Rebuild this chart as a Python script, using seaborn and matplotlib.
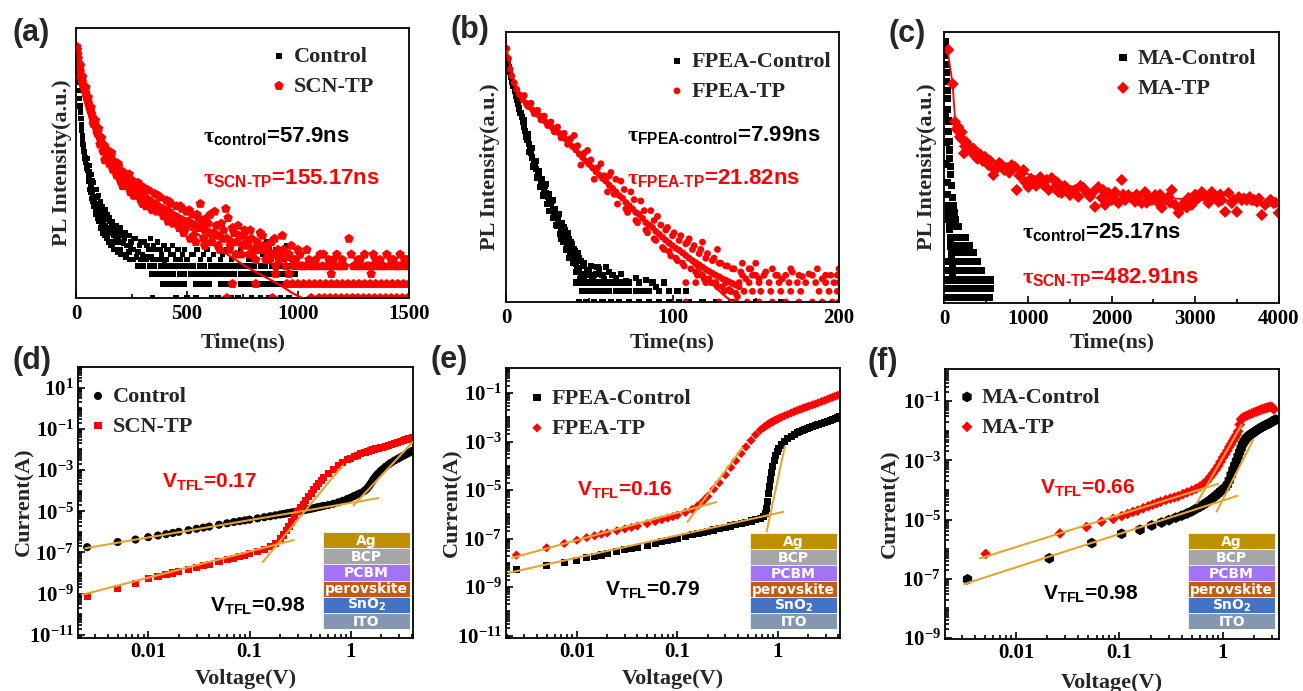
import matplotlib
matplotlib.use("Agg")
import matplotlib.pyplot as plt
import seaborn as sns
import numpy as np
from matplotlib.ticker import (FixedLocator, FuncFormatter, LogLocator,
                               NullLocator, NullFormatter)

# ---------------------------------------------------------------- (a) TRPL
a_ctrl_t = [2, 4, 6, 8, 10, 12, 14, 16, 18, 20, 22, 24, 26, 28, 30, 32, 34, 36, 38, 40,
            43, 46, 49, 52, 55, 58, 61, 64, 67, 70, 74, 78, 82, 86, 90,
            95, 100, 105, 110, 115, 120, 125, 130, 140, 150, 160, 170, 180, 190, 200,
            215, 230, 245, 260, 280, 300, 320, 340, 360, 380, 400,
            60, 70, 80, 90, 100, 110, 120, 130, 140, 150, 165, 180, 200, 220, 240, 260,
            290, 320, 350, 380, 410, 440, 480, 520, 560, 600, 650, 700, 760, 820, 860, 900, 950,
            60, 70, 80, 90, 100, 110, 120, 130, 140, 150, 165, 180, 200, 220, 240, 260]
a_ctrl_counts = [1900, 2600, 2200, 1700, 1300, 1000, 780, 620, 500, 420, 350, 290, 250, 215, 185,
                 165, 150, 135, 120, 112,
                 100, 92, 84, 78, 72, 66, 60, 55, 50, 46, 40, 37, 33, 30, 28,
                 26, 24, 22, 21, 19, 18, 17, 16, 15, 14, 13, 12, 11, 11, 10,
                 9.5, 9, 8.5, 8, 7.5, 7, 6.5, 6.5, 6, 6, 5.5,
                 90, 70, 55, 45, 38, 32, 28, 25, 22, 20, 18, 16, 15, 13, 12, 11,
                 10, 9, 9, 8, 8, 7, 7, 7, 6, 6, 6, 6, 7, 9, 10, 8, 9,
                 45, 35, 28, 22, 18, 15, 13, 12, 11, 10, 9, 8, 7, 7, 6, 6]
a_ctrl_spread_t = [52, 56, 62, 66, 72, 76, 84, 88, 94, 98, 104, 108,
                   112, 116, 122, 126, 132, 136, 142, 146, 152, 156, 162, 168, 172, 176, 184,
                   188, 194, 198,
                   205, 210, 218, 225, 232, 238, 248, 252, 266, 272, 285, 292,
                   306, 315, 328, 335, 346, 356, 366, 372, 386, 396, 405, 418, 428, 436, 448,
                   460, 470, 490, 500, 530, 545, 575, 590, 620, 660, 680, 720, 740, 780, 800,
                   840, 870, 880, 920, 940, 970, 990]
a_ctrl_spread_c = [110, 58, 75, 42, 58, 32, 45, 25, 36, 20, 30, 18,
                   26, 16, 24, 14, 21, 12, 19, 10, 18, 9, 16, 8, 15, 10, 13, 7.5, 14, 8,
                   12, 7, 11, 6.5, 12, 7.5, 10, 6, 11, 6.5, 9, 6,
                   10, 6, 8, 11, 6, 8, 10, 6, 7, 9, 6, 8, 7, 9, 6,
                   8, 6, 8, 6, 7, 8, 7, 8, 7, 7, 8, 7, 8, 6, 8, 7, 8, 6, 7, 6, 6, 5]
a_ctrl_floor = {
    5: [280, 305, 330, 355, 380, 405, 430, 455, 480, 505, 530, 555, 580, 605, 630, 655,
        680, 705, 730, 755, 780, 805, 830, 855, 880, 905, 930, 955],
    4: [340, 365, 390, 415, 440, 465, 490, 515, 540, 565, 590, 615, 640, 665, 690, 715,
        740, 765, 790, 815, 840, 865, 890, 915, 940, 965, 990],
    3: [390, 410, 430, 450, 470, 490, 540, 560, 580, 600, 650, 670, 690, 740, 760, 780,
        800, 830, 850, 870, 890, 910, 930],
    2: [345, 450, 500, 540, 610, 640, 700, 730, 790, 830, 870, 920, 960],
}
a_tp_t = [2, 4, 6, 8, 10, 13, 16, 19, 22, 25, 28, 31, 34, 37, 40, 44, 48, 52, 56, 60,
          65, 70, 75, 80, 86, 92, 98, 104, 110, 117, 124, 131, 138, 145,
          153, 161, 170, 179, 188, 197, 207, 217, 228, 239, 250, 262, 274, 286, 298, 310,
          323, 336, 349, 362, 376, 390, 404, 418, 432, 446, 460,
          475, 490, 505, 520, 535, 550, 565, 580, 600, 620, 640, 660, 680, 700,
          725, 750, 775, 800, 830, 860, 890, 920, 950, 980,
          130, 160, 190, 210, 240, 260, 280, 300, 320, 345, 370, 395, 420, 445, 470, 490,
          510, 530, 545, 560, 575, 590, 610, 625, 640, 655, 675, 690, 705, 720, 735, 760,
          780, 790, 810, 830, 845, 870, 880, 900, 910, 930, 960, 985, 1000, 1020, 1050,
          1070, 1100, 1130, 1160, 1190, 1230, 1250, 1280, 1320, 1350, 1380, 1420, 1450,
          1480, 1500]
a_tp_counts = [2000, 2750, 2500, 2200, 1950, 1700, 1500, 1350, 1220, 1100, 1000, 930, 880, 840,
               800, 720, 650, 590, 540, 490,
               440, 400, 360, 325, 290, 260, 235, 210, 190, 170, 155, 140, 128, 118,
               108, 100, 90, 82, 76, 70, 64, 60, 56, 52, 49, 46, 43, 41, 38, 36,
               34, 32, 30, 29, 27, 26, 25, 24, 22, 21, 20,
               19, 18, 18, 17, 16, 15, 15, 14, 13, 13, 12, 11, 11, 10,
               10, 9, 9, 8, 8, 7.5, 7, 6.5, 6.5, 6,
               105, 130, 95, 50, 70, 38, 55, 30, 45, 25, 38, 21, 32, 18, 28, 14,
               25, 12, 22, 30, 11, 20, 10, 24, 9, 17, 26, 8, 15, 7, 12, 14,
               7, 11, 6, 13, 9, 6, 10, 5, 8, 12, 7, 5, 8, 5, 6,
               5, 7, 5, 6, 5, 11, 5, 6, 5, 6, 5, 6, 5,
               6, 6]
a_tp_spread_t = [20, 30, 45, 55, 68, 78, 88, 95, 102, 108,
                 115, 122, 128, 135, 142, 150, 158, 166, 175, 183,
                 192, 200, 212, 222, 235, 245, 256, 268, 280, 292,
                 304, 316, 328, 340, 355, 366, 380, 392, 408, 415,
                 426, 438, 452, 465, 478, 485, 498, 515, 525, 540,
                 552, 568, 580, 595, 605, 615, 632, 648, 665, 685,
                 695, 712, 730, 745, 755, 770, 785, 795, 815, 825,
                 840, 855, 865, 885, 895, 915, 935, 945, 970, 990,
                 1010, 1040, 1080, 1115, 1140, 1175, 1200, 1240, 1270, 1300,
                 1340, 1370, 1400, 1430, 1460, 1490]
a_tp_spread_c = [1600, 1150, 850, 640, 480, 300, 330, 230, 260, 165,
                 200, 135, 160, 110, 140, 95, 120, 80, 100, 68,
                 88, 58, 75, 50, 66, 42, 58, 38, 52, 33,
                 48, 28, 44, 26, 40, 24, 36, 22, 33, 18,
                 30, 17, 28, 15, 26, 13, 24, 11, 22, 10,
                 20, 18, 9, 17, 22, 12, 16, 8, 14, 20,
                 9, 13, 16, 7, 12, 10, 14, 7, 10, 8,
                 12, 6, 9, 7, 11, 6, 8, 5, 9, 6,
                 7, 8, 6, 7, 6, 7, 6, 7, 6, 7,
                 7, 6, 7, 6, 7, 6]
a_tp_floor = {
    5: [1010, 1035, 1060, 1085, 1110, 1135, 1160, 1185, 1210, 1260, 1285, 1310, 1335, 1360,
        1385, 1410, 1435, 1460, 1485, 1500],
    4: [900, 960, 1150, 1330],
    3: [705, 810, 950, 975, 1000, 1025, 1050, 1075, 1100, 1125, 1150, 1175, 1200, 1225,
        1250, 1275, 1300, 1325, 1350, 1375, 1400, 1425, 1450, 1475, 1500],
    2: [680, 885, 1060, 1095, 1120, 1145, 1170, 1195, 1220, 1245, 1270, 1295, 1320, 1345,
        1370, 1395, 1420, 1445, 1470, 1495],
}
a_tp_fit_t = [5, 20, 40, 60, 80, 100, 130, 160, 200, 250, 300, 350, 400, 450, 500, 550,
              600, 650, 700, 767, 857, 920, 975, 1020, 1050]
a_tp_fit_c = [2700, 1300, 780, 500, 330, 225, 145, 100, 68, 48, 37, 29, 24, 19, 15.5, 12.5,
              10, 8, 6.5, 4.9, 3.6, 2.9, 2.3, 2.0, 1.8]

# ---------------------------------------------------------------- (b) TRPL
b_ctrl_t = [0.3, 1, 1.7, 2.4, 3.1, 3.8, 4.5, 5.2, 5.9, 6.6, 7.3, 8, 8.7, 9.4, 10.1, 10.8,
            11.5, 12.2, 12.9, 13.6, 14.3, 15, 15.8, 16.6, 17.4, 18.2, 19,
            20, 21, 22, 23, 24, 25, 26, 27, 28, 29, 30, 31, 32, 33, 34, 35, 36, 37, 38, 39,
            40, 41, 42, 43, 44, 45, 46, 47, 48,
            24, 26, 28, 30, 32, 33, 35, 36, 37, 38, 39, 41, 42, 43, 45, 46, 47, 49, 51, 53,
            55, 58, 60, 64]
b_ctrl_counts = [640, 600, 540, 490, 440, 400, 365, 330, 300, 275, 250, 228, 208, 190, 172, 157,
                 143, 130, 118, 108, 98, 90, 82, 75, 69, 64, 60,
                 54, 49, 46, 42, 39, 36, 33, 31, 28, 26, 24, 22, 20, 18.5, 17, 15.5, 14.5, 13,
                 12, 11, 10.2, 9.5, 8.8, 8.2, 7.6, 7.2, 6.8, 6.4, 6,
                 47, 27, 34, 20, 25, 15, 19, 12, 17, 10, 14, 12, 7.5, 11, 9.5, 6, 8.5, 7.5,
                 8.5, 7, 8.3, 7, 8.3, 7]
b_ctrl_spread_t = [11, 12, 13.2, 14, 15.4, 16.2, 17.8, 18.6, 19.5, 20.5,
                   21.5, 22.5, 23.5, 24.5, 25.5, 26.5, 27.5, 28.5, 29.5, 30.5,
                   31.5, 32.5, 33.5, 34.5, 35.5, 36.5, 37.5, 38.5, 39.5, 40.5,
                   41.5, 42.5, 44, 44.5, 46.5, 48, 50, 52, 54, 56,
                   59, 62, 66, 69, 72, 78, 84, 90]
b_ctrl_spread_c = [180, 125, 135, 92, 100, 68, 76, 54, 62, 44,
                   52, 37, 45, 31, 38, 27, 33, 23, 28, 19.5,
                   25, 16.5, 21, 14, 18, 12.5, 15, 10.5, 13.5, 9,
                   11.5, 7.8, 10, 6.5, 9, 7, 7.8, 6.6, 7.2, 8,
                   6.5, 7.5, 6.6, 7.2, 6.2, 6.6, 6.3, 5.5]
b_ctrl_floor = {
    6: [42, 45, 48, 51, 54, 57, 60, 63, 67, 70, 74, 80, 88, 95],
    5: [46, 49, 52, 55, 58, 62, 66, 70, 74, 78, 82, 86, 92, 98, 103, 108],
    4: [44, 48, 53, 58, 63, 68, 74, 80, 86, 92, 98, 104, 110, 118, 126, 135, 150, 165],
}
b_tp_t = [0.5, 1.5, 2.5, 3.5, 5, 6.5, 8,
          10, 12, 14, 16, 18, 20, 22, 24, 26, 28, 30, 32, 34, 36, 38, 40, 42, 44, 46, 48,
          50, 52, 54, 56, 58, 60, 62, 64, 66, 68, 70, 72, 74, 76, 78, 80, 82, 84, 86, 88,
          90, 92, 94, 96, 98, 100, 102, 104, 106, 108, 110, 112, 114, 116, 118, 120, 122,
          124, 126, 128, 130, 132, 134, 136, 138, 140,
          41, 45, 49, 53, 57, 61, 63, 67, 69, 73, 75, 79, 81, 85, 87, 89, 91, 95, 97, 99,
          101, 103, 105, 107, 109, 111, 113, 115, 117, 119, 121, 123, 125, 127, 129, 131,
          133, 135, 137, 139, 110, 118, 127, 142, 146, 150]
b_tp_counts = [800, 650, 520, 450, 390, 340, 305,
               275, 255, 237, 222, 210, 197, 185, 172, 162, 152, 145, 136, 128, 120, 112, 103,
               96, 88, 82, 76,
               71, 66, 61, 57, 53, 50, 46, 43, 40, 37, 35, 32, 30, 28, 26, 25, 23, 21, 20, 19,
               17.5, 16.5, 15.5, 14.5, 13.7, 13, 12.3, 11.8, 11.2, 10.6, 10, 9.5, 9.1, 8.7,
               8.3, 7.9, 7.6, 7.3, 7, 6.8, 6.5, 6.3, 6.1, 5.9, 5.7, 5.5,
               130, 70, 95, 52, 72, 40, 60, 31, 50, 26, 40, 21, 33, 17, 27, 15, 24, 12, 19,
               10.5, 17, 9.5, 16, 8.5, 14, 8, 13, 7, 12, 6.5, 11, 6, 10, 5.5, 9, 5, 8.5, 5,
               8, 4.5, 15, 14, 12, 9, 8, 9]
b_tp_spread_t = [11, 13, 15, 17, 19, 21, 23, 25, 27, 29,
                 31, 33, 35, 37, 39, 43, 47, 51, 55, 59,
                 62, 65, 66, 71, 72, 77, 78, 83, 84, 89,
                 90, 93, 94, 96, 98, 100, 102, 104, 106, 108,
                 112, 114, 116, 118, 120, 122, 124, 126, 128, 130,
                 132, 134, 136, 138, 141, 144, 148, 152, 156, 162,
                 166, 172, 178, 182, 190, 195]
b_tp_spread_c = [300, 240, 255, 205, 220, 180, 195, 160, 172, 140,
                 155, 124, 136, 108, 122, 105, 90, 78, 66, 56,
                 56, 38, 52, 42, 28, 34, 22, 27, 18, 22,
                 14.5, 20, 12.5, 18, 11.5, 16, 10, 14.5, 9, 13.5,
                 12, 7.5, 11, 7, 10, 6.5, 9.5, 6, 9, 5.5,
                 8.5, 5.2, 8, 4.8, 7.5, 6.5, 7, 6.5, 7.5, 7,
                 6.5, 7.5, 6.8, 7.2, 6.5, 7]
b_tp_floor = {
    8: [147, 160, 171, 187, 200],
    7: [142, 150, 155, 163, 168, 176, 184, 192, 199],
    6: [108, 114, 120, 126, 132, 140, 146, 152, 158, 164, 170, 175, 180, 186, 192, 197, 200],
    5: [135, 143, 148, 153, 159, 165, 171, 177, 188, 194, 199],
    4: [108, 128, 138, 145, 152, 160, 168, 176, 184, 190, 196, 200],
}
b_tp_fit_t = [0.5, 5, 10, 20, 30, 40, 50, 60, 70, 80, 90, 100, 110, 120, 126, 131, 136, 140]
b_tp_fit_c = [760, 390, 275, 197, 145, 103, 71, 50, 35, 25, 17.5, 12.8, 9.6, 6.8, 5.4, 4.6,
              4.0, 3.7]

# ---------------------------------------------------------------- (c) TRPL
c_ctrl_t = [8, 12, 16, 20, 24, 28, 32, 36, 40, 45, 50, 55, 60, 65, 70, 75, 80, 90, 100, 110,
            120, 130,
            20, 26, 32, 38, 44, 50, 56, 62, 68, 74, 80, 86, 92, 98, 104]
c_ctrl_counts = [780, 800, 700, 560, 450, 360, 290, 230, 185, 140, 105, 80, 62, 50, 40, 33, 27,
                 20, 15, 12, 10, 8.5,
                 120, 60, 35, 22, 16, 12, 10, 8, 6.5, 5, 4.2, 3.5, 3, 2.5, 2.1]
c_ctrl_floor = {
    8.4: [60, 100, 131],
    7.0: [70, 110, 140, 171],
    5.4: [80, 120, 160, 200, 230, 251],
    4.4: [90, 130, 170, 210, 250, 290, 300],
    3.6: [100, 140, 180, 220, 260, 300, 330, 350],
    2.9: [60, 100, 140, 180, 220, 260, 300, 340, 380, 400],
    2.3: [50, 90, 130, 170, 210, 250, 290, 330, 370, 410, 450],
    1.8: [40, 80, 120, 160, 200, 240, 280, 320, 360, 400, 440, 480, 520, 549],
    1.45: [40, 80, 120, 160, 200, 240, 280, 320, 360, 400, 440, 480, 520, 549],
    1.15: [60, 100, 140, 180, 220, 260, 300, 340, 380, 420, 460, 500, 540],
}
c_tp_t = [52, 104, 131, 171, 211, 239, 263, 302, 370, 430, 490, 530, 589, 629, 689, 749, 808,
          848, 868, 928, 967, 1007, 1067, 1127, 1186, 1226, 1286, 1326, 1366, 1405, 1465,
          1505, 1565, 1604, 1664, 1704, 1744, 1803, 1843, 1883, 1923, 1963, 2003, 2043, 2083,
          2122, 2162, 2202, 2242, 2282, 2322, 2361, 2401, 2441, 2481, 2521, 2561, 2600, 2640,
          2680, 2720, 2760, 2800, 2839, 2879, 2919, 2959, 2999, 3039, 3079, 3118, 3158, 3198,
          3238, 3278, 3318, 3357, 3397, 3437, 3497, 3556, 3616, 3676, 3736, 3795, 3835, 3875,
          3935, 3995,
          150, 190, 220, 250, 280, 330, 350, 400, 460, 550, 610, 660, 720, 780, 900, 950,
          1040, 1100, 1150, 1250, 1350, 1440, 1540, 1630, 1780, 1900, 2050, 2140, 2300, 2420,
          2580, 2700, 2900, 3000, 3180, 3300, 3460, 3520, 3580, 3650, 3700, 3760, 3900, 3960]
c_tp_counts = [647, 271, 103, 90, 79, 46, 61.5, 54, 43, 45, 42, 34, 26.4, 32.5, 34, 31.6, 34,
               32.5, 18, 27.8, 22.1, 19.4, 21.5, 22.1, 20.5, 23.3, 24.5, 19.4, 17.1, 16.7, 19,
               15.8, 18, 15.1, 19, 16.7, 15.1, 11.7, 19.4, 14.7, 12.3, 16.7, 13.9, 17.1, 12.9,
               23.3, 13.9, 15.8, 14.7, 13.3, 15.1, 12.9, 17.1, 15.1, 13.9, 15.8, 12.9, 11.4,
               13.9, 15.1, 18, 12.3, 10, 11.7, 13.3, 14.7, 12.3, 13.9, 14.7, 17.1, 15.1, 12.9,
               17.1, 15.1, 13.3, 13.9, 10.3, 16.7, 12.9, 10.3, 13.9, 13.9, 13.9, 13.3, 9.5,
               12.3, 13.3, 12.9, 10,
               85, 70, 65, 55, 50, 48, 52, 40, 38, 38, 30, 36, 30, 28, 26, 30, 24, 20, 25, 18,
               22, 20, 17, 20, 17, 18, 14, 16, 16, 13, 16, 13, 11.5, 16, 14, 16, 14, 15, 14.5,
               15, 14, 14.5, 14, 13]
c_tp_fit_t = [40, 60, 80, 104, 131, 160, 200, 250, 300, 400, 500, 650, 800, 1000, 1250, 1500,
              2000, 2500, 3000, 3500, 4000]
c_tp_fit_c = [700, 500, 380, 260, 115, 85, 70, 60, 53, 45, 40, 35, 31, 27, 23, 20, 16.5, 15,
              14, 13.5, 13]

# ---------------------------------------------------------------- (d) J-V
d_v = [0.0025, 0.005, 0.0075, 0.01, 0.0125, 0.015, 0.0175, 0.02, 0.025, 0.03,
       0.035, 0.04, 0.05, 0.06, 0.07, 0.08, 0.09, 0.1, 0.12, 0.14,
       0.16, 0.18, 0.2, 0.215, 0.23, 0.245, 0.26, 0.28, 0.3, 0.32,
       0.34, 0.36, 0.38, 0.405, 0.43, 0.455, 0.48, 0.51, 0.54, 0.6,
       0.67, 0.75, 0.83, 0.92, 1.0, 1.08, 1.16, 1.25, 1.35, 1.4,
       1.45, 1.5, 1.55, 1.6, 1.65, 1.7, 1.75, 1.8, 1.85, 1.95,
       2.05, 2.2, 2.35, 2.5, 2.7, 2.9, 3.1, 3.3, 3.5, 3.7,
       3.9, 4.1]
d_ctrl_i = [1.8e-7, 3.2e-7, 4.2e-7, 5.5e-7, 6.6e-7, 7.7e-7, 8.8e-7, 1.0e-6, 1.2e-6, 1.4e-6,
            1.6e-6, 1.8e-6, 2.2e-6, 2.6e-6, 3.0e-6, 3.3e-6, 3.6e-6, 3.9e-6, 4.5e-6, 5.1e-6,
            5.7e-6, 6.3e-6, 6.9e-6, 7.3e-6, 7.8e-6, 8.2e-6, 8.7e-6, 9.3e-6, 1.0e-5, 1.06e-5,
            1.12e-5, 1.18e-5, 1.25e-5, 1.32e-5, 1.4e-5, 1.5e-5, 1.6e-5, 1.7e-5, 1.8e-5, 2.0e-5,
            2.3e-5, 2.7e-5, 3.2e-5, 3.9e-5, 4.6e-5, 5.5e-5, 6.5e-5, 7.6e-5, 9.5e-5, 1.1e-4,
            1.3e-4, 1.6e-4, 2.0e-4, 2.5e-4, 3.2e-4, 3.9e-4, 4.8e-4, 5.7e-4, 6.6e-4, 8.6e-4,
            1.08e-3, 1.45e-3, 1.85e-3, 2.3e-3, 2.9e-3, 3.5e-3, 4.2e-3, 5.0e-3, 5.8e-3, 6.7e-3,
            7.7e-3, 8.8e-3]
d_tp_i = [7.5e-10, 1.8e-9, 3.2e-9, 5.2e-9, 6.8e-9, 8.4e-9, 1.0e-8, 1.2e-8, 1.55e-8, 1.9e-8,
          2.3e-8, 2.7e-8, 3.5e-8, 4.4e-8, 5.3e-8, 6.3e-8, 7.4e-8, 8.6e-8, 1.12e-7, 1.45e-7,
          1.95e-7, 2.8e-7, 4.5e-7, 7.0e-7, 1.1e-6, 1.8e-6, 3.0e-6, 5.5e-6, 1.0e-5, 1.5e-5,
          2.2e-5, 3.3e-5, 5.0e-5, 7.5e-5, 1.1e-4, 1.6e-4, 2.2e-4, 3.1e-4, 4.2e-4, 7.0e-4,
          1.1e-3, 1.6e-3, 2.3e-3, 3.1e-3, 3.8e-3, 4.6e-3, 5.3e-3, 6.1e-3, 7.0e-3, 7.4e-3,
          7.9e-3, 8.3e-3, 8.8e-3, 9.2e-3, 9.7e-3, 1.01e-2, 1.06e-2, 1.1e-2, 1.14e-2, 1.22e-2,
          1.3e-2, 1.43e-2, 1.56e-2, 1.7e-2, 1.9e-2, 2.1e-2, 2.35e-2, 2.6e-2, 2.9e-2, 3.2e-2,
          3.5e-2, 3.8e-2]
d_fits = {  # straight-line fits (two end points each) in log-log space
    "ctrl_ohmic": ([0.0024, 1.86], [1.6e-7, 4.3e-5]),
    "ctrl_tfl": ([1.06, 4.4], [1.9e-5, 3.4e-2]),
    "tp_ohmic": ([0.00222, 0.273], [8.7e-10, 4.0e-7]),
    "tp_tfl": ([0.135, 0.83], [3.4e-8, 1.66e-3]),
}

# ---------------------------------------------------------------- (e) J-V
e_v = [0.0025, 0.005, 0.0075, 0.01, 0.0125, 0.015, 0.0175, 0.02, 0.025, 0.03,
       0.035, 0.04, 0.05, 0.06, 0.07, 0.08, 0.09, 0.1, 0.12, 0.14,
       0.16, 0.18, 0.2, 0.23, 0.26, 0.3, 0.34, 0.38, 0.43, 0.48,
       0.54, 0.6, 0.67, 0.72, 0.75, 0.77, 0.79, 0.81, 0.83, 0.85,
       0.87, 0.89, 0.92, 0.95, 0.98, 1.02, 1.08, 1.16, 1.25, 1.35,
       1.45, 1.55, 1.65, 1.75, 1.85, 1.95, 2.05, 2.2, 2.35, 2.5,
       2.7, 2.9, 3.1, 3.3, 3.5, 3.7, 3.9, 4.1]
e_ctrl_i = [5.5e-9, 8.0e-9, 1.05e-8, 1.3e-8, 1.6e-8, 1.85e-8, 2.1e-8, 2.4e-8, 2.9e-8, 3.4e-8,
            3.9e-8, 4.4e-8, 5.4e-8, 6.4e-8, 7.4e-8, 8.4e-8, 9.4e-8, 1.04e-7, 1.23e-7, 1.42e-7,
            1.6e-7, 1.8e-7, 1.98e-7, 2.25e-7, 2.5e-7, 2.9e-7, 3.3e-7, 3.7e-7, 4.2e-7, 4.7e-7,
            5.3e-7, 6.0e-7, 7.0e-7, 8.0e-7, 1.1e-6, 1.8e-6, 3.5e-6, 7.0e-6, 1.4e-5, 2.8e-5,
            5.5e-5, 9.0e-5, 1.6e-4, 2.6e-4, 3.8e-4, 5.2e-4, 7.2e-4, 9.8e-4, 1.3e-3, 1.65e-3,
            2.0e-3, 2.3e-3, 2.6e-3, 2.9e-3, 3.2e-3, 3.5e-3, 3.8e-3, 4.2e-3, 4.6e-3, 5.0e-3,
            5.6e-3, 6.2e-3, 6.8e-3, 7.4e-3, 8.0e-3, 8.7e-3, 9.4e-3, 1.02e-2]
e_tp_i = [2.1e-8, 4.2e-8, 6.3e-8, 8.6e-8, 1.1e-7, 1.3e-7, 1.5e-7, 1.7e-7, 2.1e-7, 2.5e-7,
          2.9e-7, 3.3e-7, 4.1e-7, 5.0e-7, 6.0e-7, 7.0e-7, 8.0e-7, 9.2e-7, 1.2e-6, 1.6e-6,
          2.3e-6, 3.5e-6, 5.5e-6, 1.1e-5, 2.0e-5, 4.2e-5, 8.5e-5, 1.6e-4, 3.2e-4, 6.0e-4,
          1.1e-3, 1.9e-3, 3.0e-3, 3.8e-3, 4.3e-3, 4.6e-3, 4.9e-3, 5.3e-3, 5.7e-3, 6.0e-3,
          6.3e-3, 6.6e-3, 7.2e-3, 7.7e-3, 8.2e-3, 8.9e-3, 1.0e-2, 1.15e-2, 1.3e-2, 1.5e-2,
          1.7e-2, 1.9e-2, 2.1e-2, 2.3e-2, 2.5e-2, 2.7e-2, 2.9e-2, 3.2e-2, 3.5e-2, 3.9e-2,
          4.4e-2, 4.9e-2, 5.5e-2, 6.1e-2, 6.7e-2, 7.3e-2, 7.9e-2, 8.5e-2]
e_fits = {
    "ctrl_ohmic": ([0.00211, 1.13], [3.9e-9, 1.26e-6]),
    "ctrl_tfl": ([0.772, 1.17], [1.95e-7, 6.2e-4]),
    "tp_ohmic": ([0.00226, 0.244], [1.6e-8, 3.2e-6]),
    "tp_tfl": ([0.126, 0.443], [4.9e-7, 5.5e-4]),
}

# ---------------------------------------------------------------- (f) J-V
f_ctrl_v = [0.0034, 0.021, 0.054, 0.105, 0.158, 0.205, 0.255, 0.3, 0.35, 0.4,
            0.45, 0.5, 0.55, 0.6, 0.65, 0.7, 0.75, 0.8, 0.85, 0.9,
            0.95, 1.0, 1.05, 1.1, 1.15, 1.2, 1.25, 1.3, 1.35, 1.4,
            1.45, 1.5, 1.55, 1.6, 1.65, 1.7, 1.75, 1.8, 1.85, 1.9,
            1.95, 2.05, 2.15, 2.25, 2.35, 2.45, 2.55, 2.65, 2.75, 2.85,
            2.95, 3.05, 3.15, 3.25]
f_ctrl_i = [9.6e-8, 4.9e-7, 1.6e-6, 3.3e-6, 4.5e-6, 6.3e-6, 7.9e-6, 9.5e-6, 1.15e-5, 1.35e-5,
            1.6e-5, 1.9e-5, 2.3e-5, 2.7e-5, 3.2e-5, 3.8e-5, 4.5e-5, 5.4e-5, 6.4e-5, 7.6e-5,
            9.0e-5, 1.05e-4, 1.2e-4, 1.5e-4, 2.1e-4, 3.2e-4, 4.8e-4, 6.8e-4, 9.5e-4, 1.35e-3,
            1.9e-3, 2.6e-3, 3.5e-3, 4.3e-3, 5.0e-3, 5.7e-3, 6.3e-3, 6.9e-3, 7.4e-3, 7.9e-3,
            8.4e-3, 9.5e-3, 1.06e-2, 1.17e-2, 1.28e-2, 1.4e-2, 1.5e-2, 1.6e-2, 1.7e-2, 1.8e-2,
            1.95e-2, 2.1e-2, 2.25e-2, 2.35e-2]
f_tp_v = [0.0051, 0.0266, 0.048, 0.067, 0.087, 0.105, 0.12, 0.135, 0.15, 0.17,
          0.19, 0.21, 0.23, 0.25, 0.28, 0.31, 0.34, 0.37, 0.41, 0.45,
          0.5, 0.55, 0.6, 0.65, 0.7, 0.75, 0.8, 0.85, 0.9, 0.95,
          1.0, 1.05, 1.1, 1.15, 1.2, 1.25, 1.3, 1.35, 1.4, 1.45,
          1.5, 1.55, 1.6, 1.7, 1.8, 1.9, 2.0, 2.1, 2.2, 2.3,
          2.4, 2.5, 2.6, 2.7, 2.8, 2.9, 3.0, 3.1]
f_tp_i = [6.9e-7, 3.4e-6, 5.6e-6, 8.5e-6, 1.05e-5, 1.3e-5, 1.55e-5, 1.8e-5, 2.0e-5, 2.4e-5,
          2.8e-5, 3.2e-5, 3.6e-5, 4.0e-5, 4.6e-5, 5.1e-5, 5.6e-5, 6.1e-5, 7.2e-5, 8.2e-5,
          9.5e-5, 1.1e-4, 1.3e-4, 1.6e-4, 2.0e-4, 2.7e-4, 3.6e-4, 4.8e-4, 6.5e-4, 9.0e-4,
          1.25e-3, 1.6e-3, 2.1e-3, 2.8e-3, 3.6e-3, 4.6e-3, 5.8e-3, 7.2e-3, 9.5e-3, 1.6e-2,
          2.4e-2, 2.7e-2, 2.9e-2, 3.2e-2, 3.5e-2, 3.8e-2, 4.1e-2, 4.4e-2, 4.7e-2, 5.0e-2,
          5.3e-2, 5.5e-2, 5.8e-2, 6.0e-2, 6.2e-2, 6.4e-2, 6.1e-2, 5.2e-2]
f_fits = {
    "ctrl_ohmic": ([0.00315, 1.375], [6.6e-8, 6.3e-5]),
    "ctrl_tfl": ([0.869, 1.96], [1.85e-5, 4.9e-3]),
    "tp_ohmic": ([0.00449, 0.9], [4.9e-7, 1.6e-4]),
    "tp_tfl": ([0.557, 1.516], [3.5e-5, 1.6e-2]),
}

# device stack shown in the J-V panels (top to bottom)
stack_layers = ["Ag", "BCP", "PCBM", "perovskite", r"SnO$_{\mathdefault{2}}$", "ITO"]
stack_colors = ["#BF9000", "#A6A6A6", "#A274F5", "#C55A11", "#4472C4", "#8497B0"]

# ---------------------------------------------------------------- styling
sns.set_theme(style="ticks")
plt.rcParams.update({
    "font.family": ["Liberation Serif", "DejaVu Serif"],
    "font.weight": "bold",
    "axes.labelweight": "bold",
    "mathtext.fontset": "custom",
    "mathtext.rm": "Liberation Sans:bold",
    "mathtext.bf": "Liberation Sans:bold",
    "mathtext.sf": "Liberation Sans:bold",
    "mathtext.it": "Liberation Serif",
    "axes.edgecolor": "black",
    "xtick.color": "black",
    "ytick.color": "black",
})

W, H = 1303, 691
fig = plt.figure(figsize=(W / 100, H / 100), dpi=100)
FIT_ORANGE = "#E6A532"


def px_axes(l, r, t, b):
    return fig.add_axes([l / W, 1 - b / H, (r - l) / W, (b - t) / H])


def fig_text(x, y, s, **kw):
    return fig.text(x / W, 1 - y / H, s, **kw)


def frame(ax, tick_size, pad):
    for sp in ax.spines.values():
        sp.set_visible(True)
        sp.set_linewidth(1.3)
        sp.set_color("black")
    ax.set_facecolor("white")
    ax.tick_params(axis="both", which="both", direction="in", top=False, right=False,
                   width=1.2, labelsize=tick_size, pad=pad)
    ax.tick_params(which="major", length=5)
    ax.tick_params(which="minor", length=3)


def expand_floor(floor):
    t, c = [], []
    for level, times in floor.items():
        t += times
        c += [level] * len(times)
    return t, c


def scatter(ax, x, y, color, marker, s, z=2):
    sns.scatterplot(x=list(x), y=list(y), ax=ax, color=color, marker=marker, s=s,
                    linewidth=0, edgecolor="none", legend=False, zorder=z)
    return ax.collections[-1]


def line(ax, x, y, color, lw, z=3):
    sns.lineplot(x=list(x), y=list(y), ax=ax, color=color, lw=lw, estimator=None,
                 sort=False, legend=False, zorder=z)


def legend_at(ax, handles, labels, marker_x, row1_y, fs=16):
    hl = 0.6
    hl_px = hl * fs * 100 / 72
    x0 = marker_x - hl_px / 2
    y0 = row1_y - fs * 100 / 72 * 0.62 + 5
    ax.legend(handles, labels, loc="upper left", bbox_to_anchor=(x0 / W, 1 - y0 / H),
              bbox_transform=fig.transFigure, frameon=False,
              prop={"family": "Liberation Serif", "weight": "bold", "size": fs},
              handlelength=hl, handletextpad=0.35, labelspacing=0.42, borderpad=0,
              borderaxespad=0, scatterpoints=1)


def axis_labels(ax, xlab, xc, xcy, ylab, ycx, ycy, fs=16):
    half = fs * 100 / 72 * 0.55
    ax.set_xlabel(xlab, fontsize=fs, fontweight="bold", fontfamily="Liberation Serif")
    ax.xaxis.set_label_coords(xc / W, 1 - (xcy - half + 5) / H, transform=fig.transFigure)
    ax.set_ylabel(ylab, fontsize=fs, fontweight="bold", fontfamily="Liberation Serif")
    ax.yaxis.set_label_coords((ycx + half) / W, 1 - ycy / H, transform=fig.transFigure)


def pl_axes(ax, xmax, major, minor, ylim):
    ax.set_yscale("log")
    ax.set_xlim(0, xmax)
    ax.set_ylim(*ylim)
    ax.xaxis.set_major_locator(FixedLocator(major))
    ax.xaxis.set_major_formatter(FuncFormatter(lambda v, p: f"{v:.0f}"))
    ax.xaxis.set_minor_locator(FixedLocator(minor))
    ax.yaxis.set_major_locator(NullLocator())
    ax.yaxis.set_minor_locator(NullLocator())
    frame(ax, 15, 4)


def iv_axes(ax, xlim, ylim, ymajor):
    ax.set_xscale("log")
    ax.set_yscale("log")
    ax.set_xlim(*xlim)
    ax.set_ylim(*ylim)
    ax.xaxis.set_major_locator(FixedLocator([0.01, 0.1, 1]))
    ax.xaxis.set_major_formatter(FuncFormatter(lambda v, p: f"{v:g}"))
    ax.xaxis.set_minor_locator(LogLocator(base=10, subs=np.arange(1, 10), numticks=50))
    ax.xaxis.set_minor_formatter(NullFormatter())
    ax.yaxis.set_major_locator(FixedLocator(ymajor))
    ax.yaxis.set_major_formatter(
        FuncFormatter(lambda v, p: r"$\mathdefault{10^{%d}}$" % round(np.log10(v))))
    ax.yaxis.set_minor_locator(LogLocator(base=10, subs=np.arange(1, 10), numticks=100))
    ax.yaxis.set_minor_formatter(NullFormatter())
    frame(ax, 15, 3)


def stack_inset(ax, rect):
    ins = ax.inset_axes(rect)
    ins.barh(range(len(stack_layers)), [1] * len(stack_layers), height=1.0,
             color=stack_colors, edgecolor="#F4F4F4", linewidth=0.6)
    ins.set_xlim(0, 1)
    ins.set_ylim(len(stack_layers) - 0.5, -0.5)
    ins.axis("off")
    for i, name in enumerate(stack_layers):
        ins.text(0.5, i + 0.04, name, ha="center", va="center", color="white",
                 fontsize=10, fontfamily="DejaVu Sans", fontweight="bold")


def draw_fits(ax, fits):
    for v, i in fits.values():
        line(ax, v, i, FIT_ORANGE, 1.5, z=4)


panel_font = {"fontfamily": "Liberation Sans", "fontweight": "bold", "fontsize": 22,
              "va": "center", "ha": "left"}
tau_font = {"fontfamily": "Liberation Sans", "fontweight": "bold", "fontsize": 16,
            "va": "center", "ha": "left"}
vtfl_font = {"fontfamily": "Liberation Sans", "fontweight": "bold", "fontsize": 15,
             "va": "center", "ha": "left"}

# ================================================================ (a)
ax = px_axes(76, 409, 28, 298)
ft, fc = expand_floor(a_ctrl_floor)
h1 = scatter(ax, a_ctrl_t + a_ctrl_spread_t + ft, a_ctrl_counts + a_ctrl_spread_c + fc,
             "black", "s", 15)
ft, fc = expand_floor(a_tp_floor)
h2 = scatter(ax, a_tp_t + a_tp_spread_t + ft, a_tp_counts + a_tp_spread_c + fc,
             "red", "p", 52)
line(ax, a_tp_fit_t, a_tp_fit_c, "red", 1.6)
pl_axes(ax, 1500, [0, 500, 1000, 1500], [250, 750, 1250], (2, 4700))
axis_labels(ax, "Time(ns)", 243, 340, "PL Intensity(a.u.)", 60, 163)
legend_at(ax, [h1, h2], ["Control", "SCN-TP"], 279, 55)
fig_text(203, 136, r"$\tau_{\text{control}}$=57.9ns", color="black", **tau_font)
fig_text(203, 178, r"$\tau_{\text{SCN-TP}}$=155.17ns", color="red", **tau_font)
fig_text(13, 33, "(a)", **panel_font)

# ================================================================ (b)
ax = px_axes(506, 839, 32, 302)
ft, fc = expand_floor(b_ctrl_floor)
h1 = scatter(ax, b_ctrl_t + b_ctrl_spread_t + ft, b_ctrl_counts + b_ctrl_spread_c + fc,
             "black", "s", 20)
ft, fc = expand_floor(b_tp_floor)
h2 = scatter(ax, b_tp_t + b_tp_spread_t + ft, b_tp_counts + b_tp_spread_c + fc,
             "red", "o", 24)
line(ax, b_tp_fit_t, b_tp_fit_c, "red", 1.6)
pl_axes(ax, 200, [0, 100, 200], [50, 150], (4, 1130))
axis_labels(ax, "Time(ns)", 672, 340, "PL Intensity(a.u.)", 488, 167)
legend_at(ax, [h1, h2], ["FPEA-Control", "FPEA-TP"], 677, 60)
fig_text(627, 135, r"$\tau_{\text{FPEA-control}}$=7.99ns", color="black", **tau_font)
fig_text(627, 178, r"$\tau_{\text{FPEA-TP}}$=21.82ns", color="red", **tau_font)
fig_text(450, 30, "(b)", **panel_font)

# ================================================================ (c)
ax = px_axes(944, 1279, 32, 303)
ft, fc = expand_floor(c_ctrl_floor)
h1 = scatter(ax, c_ctrl_t + ft, c_ctrl_counts + fc, "black", "s", 26)
h2 = scatter(ax, c_tp_t, c_tp_counts, "red", "D", 38)
line(ax, c_tp_fit_t, c_tp_fit_c, "red", 1.3)
pl_axes(ax, 4000, [0, 1000, 2000, 3000, 4000], [500, 1500, 2500, 3500], (1, 1023))
axis_labels(ax, "Time(ns)", 1112, 340, "PL Intensity(a.u.)", 925, 167)
legend_at(ax, [h1, h2], ["MA-Control", "MA-TP"], 1123, 57)
fig_text(1022, 232, r"$\tau_{\text{control}}$=25.17ns", color="black", **tau_font)
fig_text(1022, 277, r"$\tau_{\text{SCN-TP}}$=482.91ns", color="red", **tau_font)
fig_text(888, 34, "(c)", **panel_font)

# ================================================================ (d)
ax = px_axes(78, 413, 367, 638)
h1 = scatter(ax, d_v, d_ctrl_i, "black", "o", 34)
h2 = scatter(ax, d_v, d_tp_i, "red", "s", 26)
draw_fits(ax, d_fits)
iv_axes(ax, (0.00203, 4.1), (7e-12, 100), [1e-11, 1e-9, 1e-7, 1e-5, 1e-3, 1e-1, 1e1])
axis_labels(ax, "Voltage(V)", 246, 676, "Current(A)", 22, 502)
legend_at(ax, [h1, h2], ["Control", "SCN-TP"], 98, 395)
stack_inset(ax, [0.731, 0.033, 0.26, 0.358])
fig_text(162, 481, r"$\text{V}_{\text{TFL}}$=0.17", color="red", **vtfl_font)
fig_text(210, 605, r"$\text{V}_{\text{TFL}}$=0.98", color="black", **vtfl_font)
fig_text(13, 361, "(d)", **panel_font)

# ================================================================ (e)
ax = px_axes(506, 840, 368, 638)
h1 = scatter(ax, e_v, e_ctrl_i, "black", "s", 26)
h2 = scatter(ax, e_v, e_tp_i, "red", "D", 22)
draw_fits(ax, e_fits)
iv_axes(ax, (0.00197, 4.14), (8e-12, 1.07), [1e-11, 1e-9, 1e-7, 1e-5, 1e-3, 1e-1])
axis_labels(ax, "Voltage(V)", 673, 676, "Current(A)", 450, 503)
legend_at(ax, [h1, h2], ["FPEA-Control", "FPEA-TP"], 537, 397)
stack_inset(ax, [0.731, 0.033, 0.26, 0.356])
fig_text(577, 490, r"$\text{V}_{\text{TFL}}$=0.16", color="red", **vtfl_font)
fig_text(605, 590, r"$\text{V}_{\text{TFL}}$=0.79", color="black", **vtfl_font)
fig_text(431, 360, "(e)", **panel_font)

# ================================================================ (f)
ax = px_axes(945, 1279, 369, 639)
h1 = scatter(ax, f_ctrl_v, f_ctrl_i, "black", "h", 60)
h2 = scatter(ax, f_tp_v, f_tp_i, "red", "D", 30)
draw_fits(ax, f_fits)
iv_axes(ax, (0.00206, 3.48), (9.3e-10, 1.2), [1e-9, 1e-7, 1e-5, 1e-3, 1e-1])
axis_labels(ax, "Voltage(V)", 1112, 680, "Current(A)", 888, 504)
legend_at(ax, [h1, h2], ["MA-Control", "MA-TP"], 967, 396)
stack_inset(ax, [0.728, 0.037, 0.26, 0.356])
fig_text(1040, 487, r"$\text{V}_{\text{TFL}}$=0.66", color="red", **vtfl_font)
fig_text(1043, 593, r"$\text{V}_{\text{TFL}}$=0.98", color="black", **vtfl_font)
fig_text(868, 362, "(f)", **panel_font)

fig.savefig("out.png", dpi=100, facecolor="white")
